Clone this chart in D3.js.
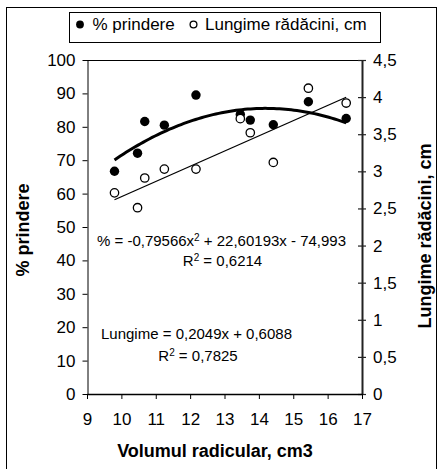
<!DOCTYPE html>
<html>
<head>
<meta charset="utf-8">
<script src="https://cdn.jsdelivr.net/npm/d3@7"></script>
<style>
  body { margin: 0; background: #fff; }
  svg { display: block; font-family: "Liberation Sans", Arial, sans-serif; }
</style>
</head>
<body>
<svg id="chart" width="441" height="469"></svg>
<script>
// Root volume (cm3) for each sample
const volum = [9.8, 10.47, 10.68, 11.25, 12.17, 13.46, 13.75, 14.42, 15.44, 16.54];
// Rooting percentage (left axis)
const prindere = [66.7, 72.1, 81.6, 80.5, 89.5, 83.7, 82.0, 80.6, 87.5, 82.5];
// Root length, cm (right axis)
const lungime = [2.71, 2.51, 2.91, 3.03, 3.03, 3.71, 3.52, 3.12, 4.12, 3.92];

// Axis ticks
const xTicks = [9, 10, 11, 12, 13, 14, 15, 16, 17];
const leftTicks = [0, 10, 20, 30, 40, 50, 60, 70, 80, 90, 100];
const rightTicks = [0, 0.5, 1, 1.5, 2, 2.5, 3, 3.5, 4, 4.5];

// Trendline coefficients as printed on the chart
const polyCoef = [-0.79566, 22.60193, -74.993];   // % = a·x² + b·x + c
const linCoef = [0.2049, 0.6088];                  // Lungime = m·x + n
const r2Values = ["0,6214", "0,7825"];

const svg = d3.select("#chart");
const L = 87, R = 362, T = 60, B = 394;

const x = d3.scaleLinear().domain([9, 17]).range([L, R]);
const yL = d3.scaleLinear().domain([0, 100]).range([B, T]);
const yR = d3.scaleLinear().domain([0, 4.5]).range([B, T]);
const comma = d => String(d).replace(".", ",");

// outer chart frame
svg.append("rect").attr("x", 6.5).attr("y", 7.5).attr("width", 430).attr("height", 470)
  .attr("fill", "none").attr("stroke", "#000").attr("stroke-width", 1);

// plot area top edge
svg.append("line").attr("x1", L).attr("x2", R).attr("y1", T + 0.5).attr("y2", T + 0.5)
  .attr("stroke", "#000").attr("stroke-width", 1);

// left axis
const gL = svg.append("g").attr("transform", `translate(${L + 0.5},0)`)
  .call(d3.axisLeft(yL).tickValues(leftTicks).tickSize(5).tickPadding(7).tickSizeOuter(0));
gL.select(".domain").attr("stroke", "#000");
gL.selectAll("text").attr("font-size", 17).attr("fill", "#000").attr("font-family", "Liberation Sans, Arial, sans-serif");

// right axis with crossing ticks
const gR = svg.append("g").attr("transform", `translate(${R},0)`)
  .call(d3.axisRight(yR).tickValues(rightTicks).tickFormat(comma).tickSize(4).tickPadding(7).tickSizeOuter(0));
gR.select(".domain").attr("stroke", "#222").attr("stroke-width", 2);
gR.selectAll(".tick line").attr("x1", -4).attr("stroke", "#222").attr("stroke-width", 1.2);
gR.selectAll("text").attr("font-size", 17).attr("fill", "#000").attr("font-family", "Liberation Sans, Arial, sans-serif");

// bottom axis
const gB = svg.append("g").attr("transform", `translate(0,${B})`)
  .call(d3.axisBottom(x).tickValues(xTicks).tickSize(5).tickPadding(14).tickSizeOuter(0));
gB.select(".domain").attr("stroke", "#000").attr("stroke-width", 1.5);
gB.selectAll("text").attr("font-size", 17).attr("fill", "#000").attr("font-family", "Liberation Sans, Arial, sans-serif");

// axis titles
svg.append("text").attr("x", 215).attr("y", 457).attr("text-anchor", "middle")
  .attr("font-size", 18).attr("font-weight", "bold").text("Volumul radicular, cm3");
svg.append("text").attr("transform", "translate(29,230) rotate(-90)").attr("text-anchor", "middle")
  .attr("font-size", 18).attr("font-weight", "bold").text("% prindere");
svg.append("text").attr("transform", "translate(431,236) rotate(-90)").attr("text-anchor", "middle")
  .attr("font-size", 18).attr("font-weight", "bold").text("Lungime rădăcini, cm");

// trendlines
const [pa, pb, pc] = polyCoef;
const xMin = d3.min(volum), xMax = d3.max(volum);
const curveX = d3.range(xMin, xMax, (xMax - xMin) / 80).concat([xMax]);
svg.append("path")
  .attr("d", d3.line().x(d => x(d)).y(d => yL(pa * d * d + pb * d + pc))(curveX))
  .attr("fill", "none").attr("stroke", "#000").attr("stroke-width", 3).attr("stroke-linejoin", "round");
svg.append("path")
  .attr("d", d3.line().x(d => x(d)).y(d => yR(linCoef[0] * d + linCoef[1]))([xMin, xMax]))
  .attr("fill", "none").attr("stroke", "#000").attr("stroke-width", 1.3);

// markers
svg.append("g").selectAll("circle").data(volum).join("circle")
  .attr("cx", d => x(d)).attr("cy", (d, i) => yL(prindere[i])).attr("r", 4.7).attr("fill", "#000");
svg.append("g").selectAll("circle").data(volum).join("circle")
  .attr("cx", d => x(d)).attr("cy", (d, i) => yR(lungime[i])).attr("r", 4.2)
  .attr("fill", "#fff").attr("stroke", "#000").attr("stroke-width", 1.3);

// equation labels
function eqLine(cx, y, parts) {
  const t = svg.append("text").attr("x", cx).attr("y", y).attr("text-anchor", "middle").attr("font-size", 15);
  parts.forEach(p => {
    const s = t.append("tspan").text(p.t);
    if (p.sup) s.attr("font-size", 10).attr("baseline-shift", "super");
  });
}
eqLine(221.5, 246, [
  { t: "% = " + comma(polyCoef[0]) + "x" }, { t: "2", sup: true },
  { t: " + " + comma(polyCoef[1]) + "x - " + comma(-polyCoef[2]) }
]);
eqLine(222.5, 266, [{ t: "R" }, { t: "2", sup: true }, { t: " = " + r2Values[0] }]);
eqLine(196.5, 339, [{ t: "Lungime = " + comma(linCoef[0]) + "x + " + comma(linCoef[1]) }]);
eqLine(198, 360.5, [{ t: "R" }, { t: "2", sup: true }, { t: " = " + r2Values[1] }]);

// legend
const lg = svg.append("g");
lg.append("rect").attr("x", 69.5).attr("y", 12.5).attr("width", 311).attr("height", 30)
  .attr("fill", "#fff").attr("stroke", "#000").attr("stroke-width", 1);
lg.append("circle").attr("cx", 80).attr("cy", 24.5).attr("r", 3.9).attr("fill", "#000");
lg.append("text").attr("x", 92.5).attr("y", 29.5).attr("font-size", 17).text("% prindere");
lg.append("circle").attr("cx", 193.5).attr("cy", 24.5).attr("r", 3.4)
  .attr("fill", "#fff").attr("stroke", "#000").attr("stroke-width", 1.3);
lg.append("text").attr("x", 205).attr("y", 29.5).attr("font-size", 17).text("Lungime rădăcini, cm");
</script>
</body>
</html>
